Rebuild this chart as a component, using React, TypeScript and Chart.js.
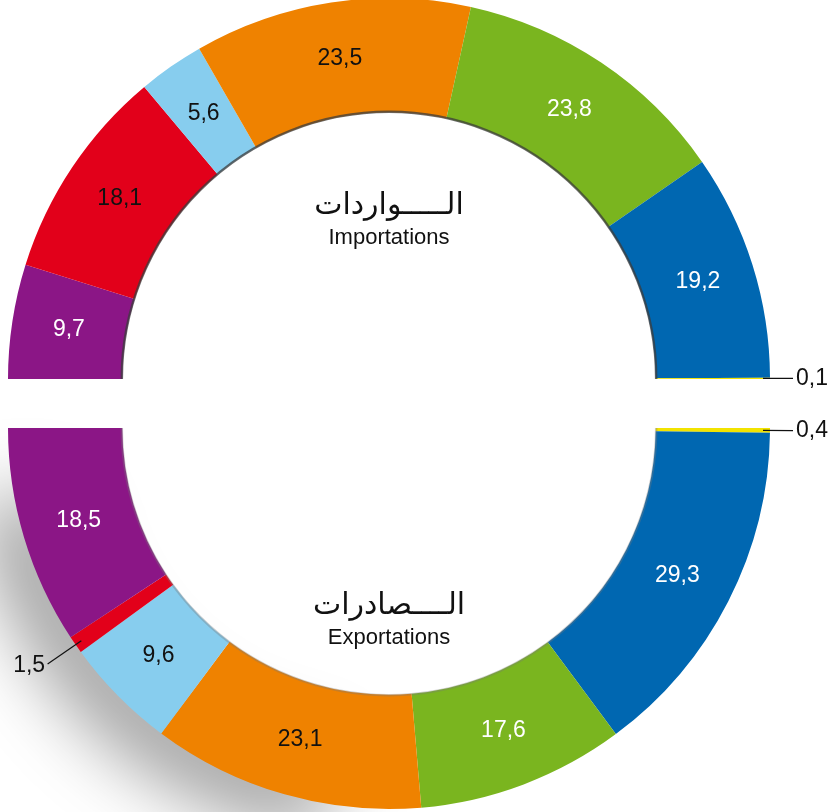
import { useEffect, useRef } from "react";
import { Chart, registerables } from "chart.js";

Chart.register(...registerables);

// ---- data ----
const categories = ["Catégorie 1", "Catégorie 2", "Catégorie 3", "Catégorie 4", "Catégorie 5", "Catégorie 6", "Catégorie 7"];
const importValues = [9.7, 18.1, 5.6, 23.5, 23.8, 19.2, 0.1];
const exportValues = [18.5, 1.5, 9.6, 23.1, 17.6, 29.3, 0.4];
const segmentColors = ["#8B1686", "#E2001A", "#87CDEE", "#EF8200", "#7AB51F", "#0067B1", "#F2E300"];
const labelColors = ["#FFFFFF", "#111111", "#111111", "#111111", "#FFFFFF", "#FFFFFF", "#111111"];
const importTitleAr = "الـــــواردات";
const importTitleFr = "Importations";
const exportTitleAr = "الــــصادرات";
const exportTitleFr = "Exportations";

const fmt = (v: number) => v.toFixed(1).replace(".", ",");

const ringPlugin = {
  id: "ringLabels",
  beforeDatasetsDraw(chart: any, _args: any, opts: any) {
    if (!opts || !opts.shadow) return;
    const meta = chart.getDatasetMeta(0);
    const a: any = meta.data[0];
    if (!a) return;
    const { x, y, innerRadius, outerRadius } = a.getProps(["x", "y", "innerRadius", "outerRadius"], true);
    const ctx = chart.ctx;
    const a0 = (95 * Math.PI) / 180;
    const a1 = (172 * Math.PI) / 180;
    const shift = 5000;
    ctx.save();
    ctx.shadowColor = "rgba(0,0,0,0.42)";
    ctx.shadowBlur = 75;
    ctx.shadowOffsetX = -shift - 30;
    ctx.shadowOffsetY = 22;
    ctx.beginPath();
    ctx.arc(x + shift, y, outerRadius, a0, a1);
    ctx.arc(x + shift, y, innerRadius + 40, a1, a0, true);
    ctx.closePath();
    ctx.fillStyle = "#000";
    ctx.fill();
    ctx.restore();
  },
  afterDatasetsDraw(chart: any, _args: any, opts: any) {
    const ctx = chart.ctx;
    const meta = chart.getDatasetMeta(0);
    const values: number[] = chart.data.datasets[0].data;
    const colors: string[] = opts.labelColors;
    let cx = 0, cy = 0, inner = 0;
    ctx.save();
    meta.data.forEach((arc: any, i: number) => {
      const p = arc.getProps(["x", "y", "startAngle", "endAngle", "innerRadius", "outerRadius"], true);
      cx = p.x; cy = p.y; inner = p.innerRadius;
      const mid = (p.startAngle + p.endAngle) / 2;
      const c = Math.cos(mid), s = Math.sin(mid);
      const v = values[i];
      ctx.font = '23px "Liberation Sans", Arial, sans-serif';
      ctx.textBaseline = "middle";
      if (v >= 3) {
        const r = (p.innerRadius + p.outerRadius) / 2;
        ctx.fillStyle = colors[i];
        ctx.textAlign = "center";
        ctx.fillText(fmt(v), p.x + r * c, p.y + r * s);
      } else {
        const r0 = p.outerRadius - 7;
        const r1 = p.outerRadius + (c >= 0 ? 23 : 34);
        ctx.strokeStyle = "#111";
        ctx.lineWidth = 1.2;
        ctx.beginPath();
        ctx.moveTo(p.x + r0 * c, p.y + r0 * s);
        ctx.lineTo(p.x + r1 * c, p.y + r1 * s);
        ctx.stroke();
        ctx.fillStyle = "#111";
        const r2 = r1 + 3;
        ctx.textAlign = c >= 0 ? "left" : "right";
        ctx.fillText(fmt(v), p.x + r2 * c, p.y + r2 * s);
      }
    });
    // inner edge shading
    ctx.strokeStyle = opts.edgeColor;
    ctx.lineWidth = 2.5;
    ctx.beginPath();
    ctx.arc(cx, cy, inner + 0.5, opts.edgeStart, opts.edgeEnd);
    ctx.stroke();
    // centre titles
    ctx.fillStyle = "#111";
    ctx.textAlign = "center";
    ctx.textBaseline = "middle";
    ctx.font = '30px "DejaVu Sans", sans-serif';
    ctx.fillText(opts.titleAr, cx, cy + opts.arOffset);
    ctx.font = '22px "Liberation Sans", Arial, sans-serif';
    ctx.fillText(opts.titleFr, cx, cy + opts.frOffset);
    ctx.restore();
  },
};

function HalfRing(props: {
  values: number[];
  labels: string[];
  colors: string[];
  textColors: string[];
  rotation: number;
  top: number;
  height: number;
  padding: any;
  pluginOpts: any;
}) {
  const ref = useRef<HTMLCanvasElement | null>(null);
  useEffect(() => {
    if (!ref.current) return;
    const chart = new Chart(ref.current, {
      type: "doughnut",
      data: {
        labels: props.labels,
        datasets: [
          {
            data: props.values,
            backgroundColor: props.colors,
            borderWidth: 0,
            hoverOffset: 0,
          },
        ],
      },
      options: {
        responsive: false,
        maintainAspectRatio: false,
        animation: false,
        rotation: props.rotation,
        circumference: 180,
        cutout: "70%",
        layout: { padding: props.padding },
        plugins: {
          legend: { display: false },
          tooltip: { enabled: false },
          ringLabels: { ...props.pluginOpts, labelColors: props.textColors },
        } as any,
      },
      plugins: [ringPlugin],
    });
    return () => chart.destroy();
  }, []);
  return (
    <canvas
      ref={ref}
      width={836}
      height={props.height}
      style={{ position: "absolute", left: 0, top: props.top, width: 836, height: props.height }}
    />
  );
}

export default function App() {
  const rev = <T,>(a: T[]) => [...a].reverse();
  return (
    <div style={{ position: "absolute", left: 0, top: 0, width: 836, height: 812, background: "#fff", overflow: "hidden" }}>
      <HalfRing
        values={importValues}
        labels={categories}
        colors={segmentColors}
        textColors={labelColors}
        rotation={-90}
        top={-2}
        height={395}
        padding={{ left: 8, right: 66, top: 0, bottom: 14 }}
        pluginOpts={{
          titleAr: importTitleAr,
          titleFr: importTitleFr,
          arOffset: -173,
          frOffset: -141,
          edgeColor: "rgba(60,60,60,0.75)",
          edgeStart: Math.PI,
          edgeEnd: 2 * Math.PI,
          shadow: false,
        }}
      />
      <HalfRing
        values={rev(exportValues)}
        labels={rev(categories)}
        colors={rev(segmentColors)}
        textColors={rev(labelColors)}
        rotation={90}
        top={415}
        height={397}
        padding={{ left: 8, right: 66, top: 13, bottom: 3 }}
        pluginOpts={{
          titleAr: exportTitleAr,
          titleFr: exportTitleFr,
          arOffset: 178,
          frOffset: 210,
          edgeColor: "rgba(120,120,120,0.35)",
          edgeStart: 0,
          edgeEnd: Math.PI,
          shadow: true,
        }}
      />
    </div>
  );
}
